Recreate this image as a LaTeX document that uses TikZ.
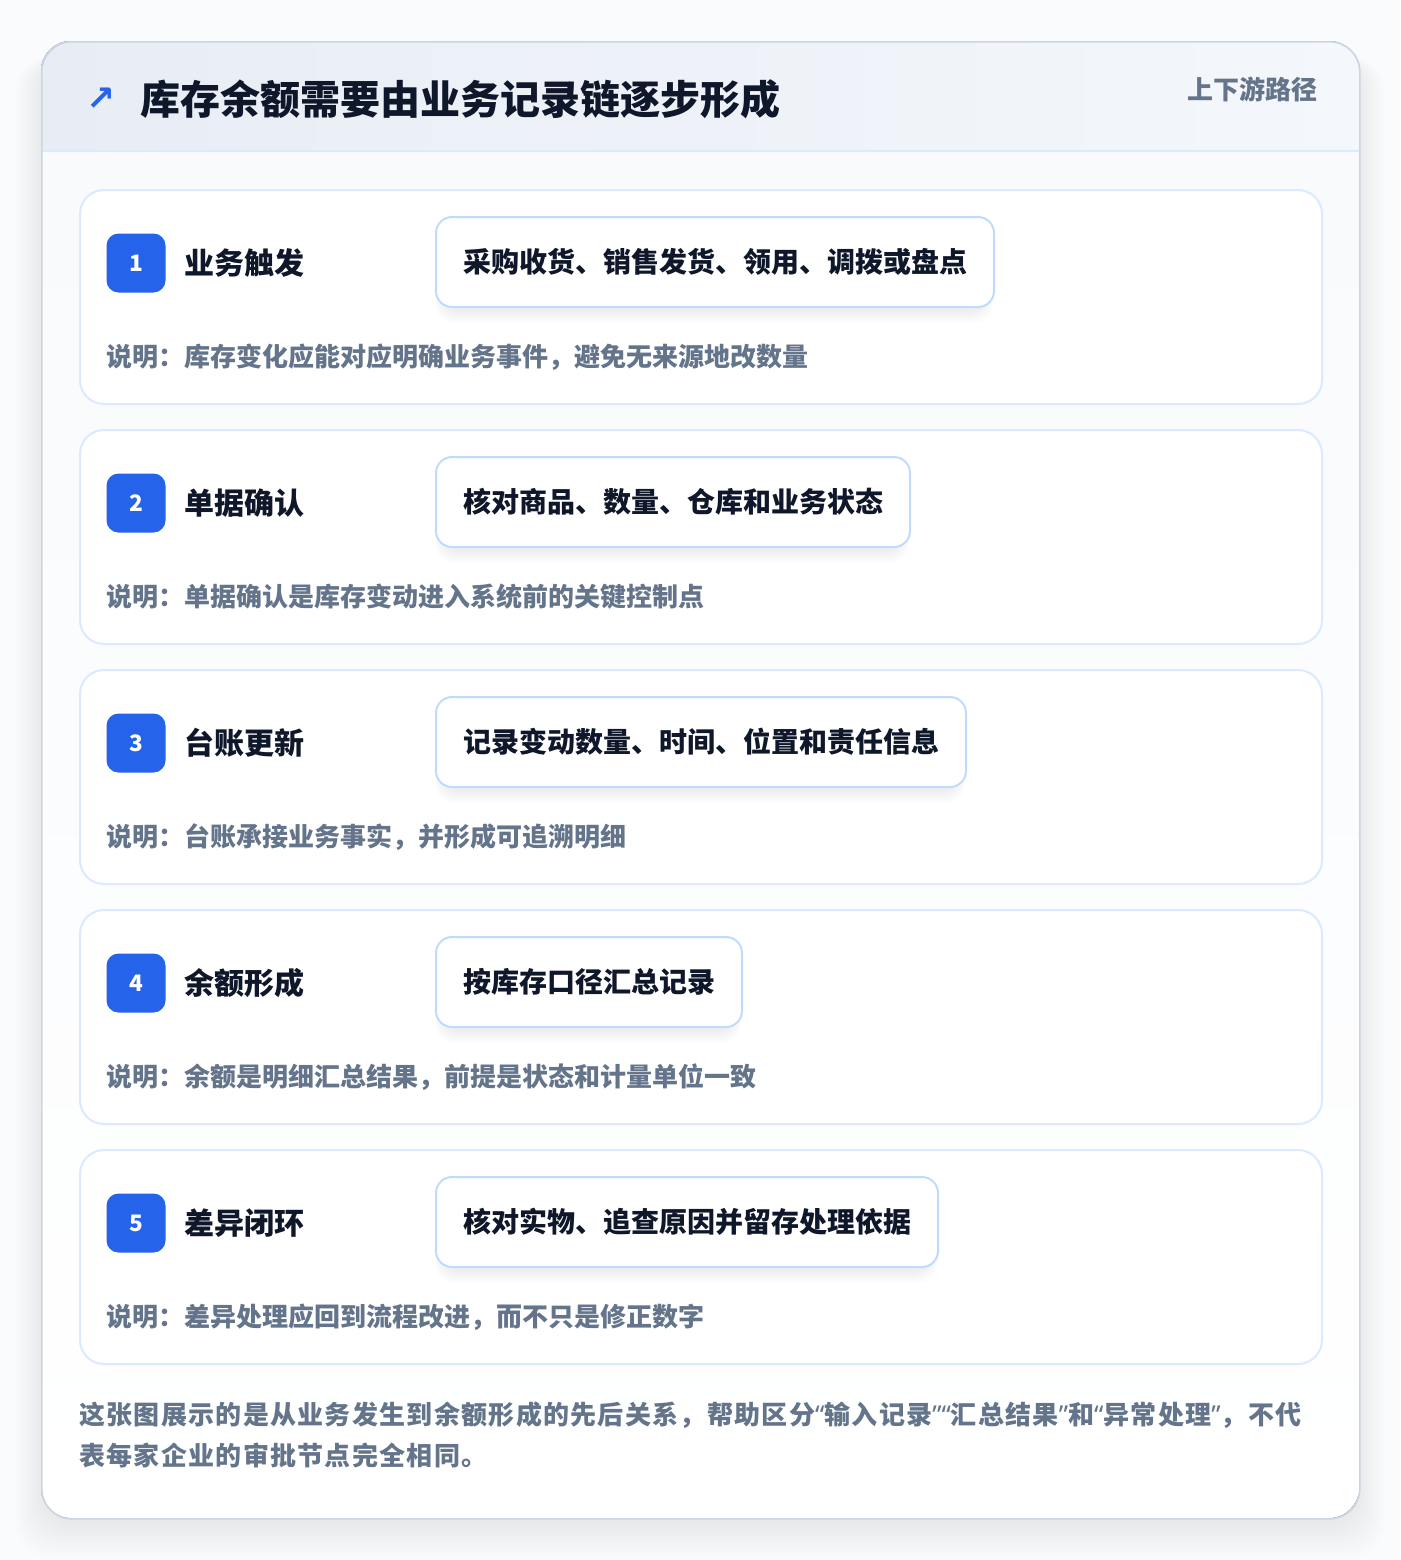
\documentclass[tikz,border=0pt]{standalone}
\usepackage{fontspec}
\setmainfont{Noto Sans CJK SC}
\newfontfamily\footfont{Noto Sans CJK SC}[LetterSpace=5]
\newfontfamily\symfont{DejaVu Sans}
\newfontfamily\qfont{Noto Sans}
\newcommand{\myopenq}{{\qfont “}}
\newcommand{\mycloseq}{{\qfont ”}}
\definecolor{pagebg}{HTML}{FAFBFC}
\definecolor{cardborder}{HTML}{CBD5E1}
\definecolor{headA}{HTML}{E8EDF5}
\definecolor{headB}{HTML}{F4F7FB}
\definecolor{headline}{HTML}{DBEAFE}
\definecolor{stepborder}{HTML}{DBEAFE}
\definecolor{boxborder}{HTML}{BFDBFE}
\definecolor{accent}{HTML}{2563EB}
\definecolor{ink}{HTML}{0F172A}
\definecolor{muted}{HTML}{64748B}
\definecolor{bodytop}{HTML}{F8FAFC}
\tikzset{
  x=0.75pt, y=-0.75pt,
  stepcard/.style={draw=stepborder, line width=1.5pt, fill=white, rounded corners=18pt,
    minimum width={1242*0.75pt}, minimum height={214*0.75pt}, anchor=north west, inner sep=0pt},
  badge/.style={fill=accent, rounded corners=9pt, minimum size={59*0.75pt}, inner sep=0pt,
    text=white, font=\fontsize{17}{20}\selectfont\bfseries},
  steptitle/.style={anchor=west, inner sep=0pt, text=ink, font=\fontsize{22.5}{26}\selectfont\bfseries},
  actbox/.style={draw=boxborder, line width=1.5pt, fill=white, rounded corners=12pt,
    minimum height={90*0.75pt}, inner xsep={27*0.75pt}, inner ysep=0pt, anchor=west,
    text=ink, font=\fontsize{21}{24}\selectfont\bfseries},
  note/.style={anchor=west, inner sep=0pt, text=muted, font=\fontsize{19.5}{23}\selectfont\bfseries},
}
\newcommand{\stepblock}[5]{%
  % #1 index, #2 top y, #3 title, #4 action, #5 note
  \node[stepcard] (card#1) at (79,#2) {};
  \node[badge] (badge#1) at (136,#2+74) {#1};
  \node[steptitle] (title#1) at (184,#2+74) {#3};
  \foreach \k in {1,...,8}{
    \fill[black, opacity=0.008, rounded corners=14pt]
      (435+8-\k,#2+28+6) rectangle (435+\actw-8+\k,#2+118+4+1.5*\k);
  }
  \node[actbox] (act#1) at (435,#2+73) {#4};
  \node[note] (note#1) at (106,#2+168) {#5};
}
\begin{document}
\begin{tikzpicture}
\useasboundingbox (0,0) rectangle (1400,1560);
\fill[pagebg] (0,0) rectangle (1400,1560);
% outer shadow
\foreach \k in {1,...,20}{
  \fill[black, opacity=0.0045, rounded corners=26pt]
    (41+6-1.6*\k,41+16) rectangle (1359-6+1.6*\k,1518+2.0*\k);
}
% outer card
\begin{scope}
  \clip[rounded corners=22.5pt] (41,41) rectangle (1359,1518);
  \fill[top color=bodytop, bottom color=white] (41,151) rectangle (1359,1518);
  \fill[left color=headA, right color=headB] (41,41) rectangle (1359,151);
  \draw[headline, line width=1.2pt] (41,151) -- (1359,151);
\end{scope}
\node[draw=cardborder, line width=1.2pt, rounded corners=22.5pt, anchor=north west,
  minimum width={1318*0.75pt}, minimum height={1477*0.75pt}, inner sep=0pt] (outer) at (41,41) {};
% header
\node[anchor=center, inner sep=0pt, text=accent, font=\symfont\bfseries\fontsize{26}{28}\selectfont] (icon) at (101,99) {↗};
\node[anchor=west, inner sep=0pt, text=ink, font=\fontsize{30}{34}\selectfont\bfseries] (title) at (140,99) {库存余额需要由业务记录链逐步形成};
\node[anchor=east, inner sep=0pt, text=muted, font=\fontsize{19.5}{22}\selectfont\bfseries] (tag) at (1318,89) {上下游路径};
% steps
\def\actw{558}
\stepblock{1}{189}{业务触发}{采购收货、销售发货、领用、调拨或盘点}{说明：库存变化应能对应明确业务事件，避免无来源地改数量}
\def\actw{474}
\stepblock{2}{429}{单据确认}{核对商品、数量、仓库和业务状态}{说明：单据确认是库存变动进入系统前的关键控制点}
\def\actw{530}
\stepblock{3}{669}{台账更新}{记录变动数量、时间、位置和责任信息}{说明：台账承接业务事实，并形成可追溯明细}
\def\actw{306}
\stepblock{4}{909}{余额形成}{按库存口径汇总记录}{说明：余额是明细汇总结果，前提是状态和计量单位一致}
\def\actw{502}
\stepblock{5}{1149}{差异闭环}{核对实物、追查原因并留存处理依据}{说明：差异处理应回到流程改进，而不只是修正数字}
% footer
\node[anchor=north west, inner sep=0pt, text=muted, align=left,
  font=\footfont\fontsize{19.5}{30.75}\selectfont\bfseries] (footer) at (79,1402)
  {这张图展示的是从业务发生到余额形成的先后关系，帮助区分\myopenq 输入记录\mycloseq\myopenq 汇总结果\mycloseq 和\myopenq 异常处理\mycloseq ，不代\\表每家企业的审批节点完全相同。};
\end{tikzpicture}
\end{document}
